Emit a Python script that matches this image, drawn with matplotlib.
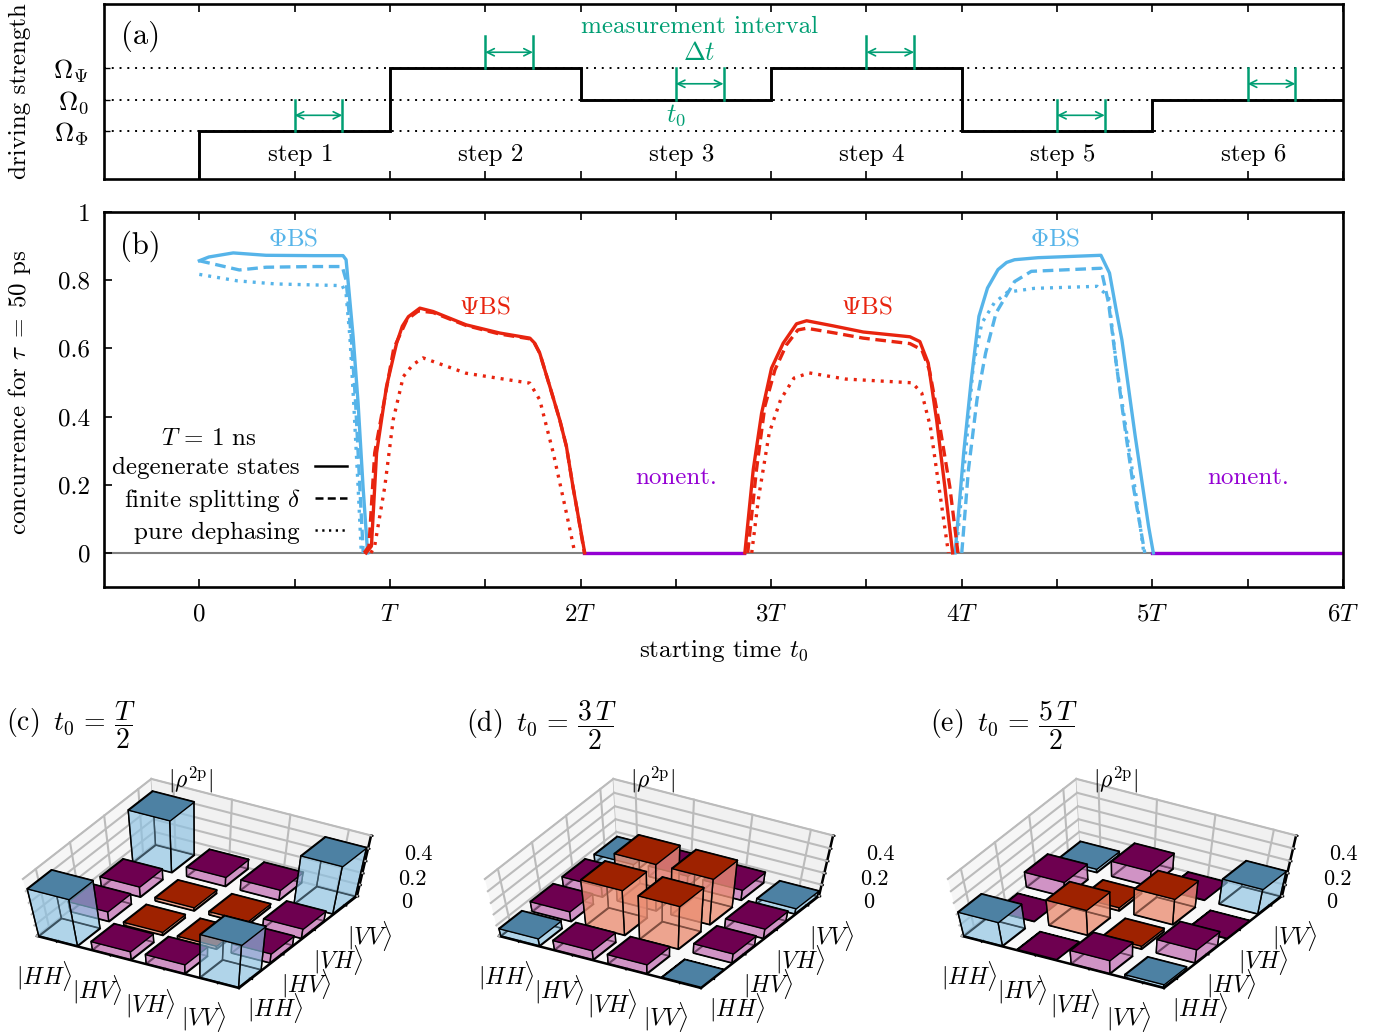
import numpy as np
import matplotlib
matplotlib.use('Agg')
import matplotlib.pyplot as plt
from matplotlib.lines import Line2D
from mpl_toolkits.mplot3d import proj3d
from mpl_toolkits.mplot3d.art3d import Poly3DCollection

plt.rcParams['font.family'] = ['cmr10']
plt.rcParams['mathtext.fontset'] = 'cm'
plt.rcParams['axes.formatter.use_mathtext'] = True
plt.rcParams['axes.unicode_minus'] = False

W, H = 1399, 1034
FS = 18

BLUE = '#56b4e9'
RED = '#e8240f'
PURPLE = '#9400d3'
GREEN = '#009e73'

##########
# Data   #
##########

# panel (a), driving strength per step
step_edges = [0, 1, 2, 3, 4, 5, 6]
step_levels = [1, 3, 2, 3, 1, 2, 2]
level_names = [r'$\Omega_\Phi$', r'$\Omega_0$', r'$\Omega_\Psi$']
step_names = ['step 1', 'step 2', 'step 3', 'step 4', 'step 5', 'step 6']

# panel (b), concurrence
phi1_solid_t = [0, 0.05, 0.178, 0.35, 0.6, 0.754, 0.77, 0.78, 0.807, 0.833, 0.859, 0.883]
phi1_solid_c = [0.857, 0.868, 0.88, 0.873, 0.872, 0.872, 0.86, 0.80, 0.634, 0.44, 0.194, 0]
phi1_dash_t = [0, 0.21, 0.35, 0.6, 0.75, 0.77, 0.797, 0.82, 0.842, 0.86]
phi1_dash_c = [0.857, 0.83, 0.838, 0.84, 0.84, 0.80, 0.634, 0.44, 0.194, 0]
phi1_dot_t = [0, 0.2, 0.4, 0.75, 0.77, 0.79, 0.81, 0.833, 0.85]
phi1_dot_c = [0.817, 0.798, 0.789, 0.784, 0.76, 0.634, 0.44, 0.194, 0]

psi1_solid_t = [0.875, 0.903, 0.93, 0.982, 1.035, 1.065, 1.097, 1.157, 1.227, 1.40, 1.576, 1.734,
                1.76, 1.786, 1.839, 1.891, 1.926, 1.96, 1.985, 2.022]
psi1_solid_c = [0, 0.02, 0.293, 0.488, 0.615, 0.665, 0.693, 0.718, 0.708, 0.669, 0.645, 0.63,
                0.615, 0.586, 0.488, 0.39, 0.312, 0.195, 0.117, 0]
psi1_dash_t = [0.865, 0.89, 0.92, 0.965, 1.02, 1.09, 1.15, 1.227, 1.40, 1.576, 1.734,
               1.76, 1.786, 1.839, 1.891, 1.926, 1.96, 1.985, 2.02]
psi1_dash_c = [0, 0.02, 0.293, 0.43, 0.6, 0.685, 0.71, 0.705, 0.667, 0.642, 0.628,
               0.613, 0.586, 0.488, 0.39, 0.312, 0.195, 0.117, 0]
psi1_dot_t = [0.9, 0.92, 0.973, 1.017, 1.07, 1.12, 1.174, 1.40, 1.734, 1.786, 1.857, 1.926, 1.97]
psi1_dot_c = [0, 0.02, 0.194, 0.39, 0.517, 0.552, 0.572, 0.527, 0.498, 0.449, 0.293, 0.117, 0]

psi2_solid_t = [2.862, 2.906, 2.95, 3.002, 3.063, 3.133, 3.186, 3.325, 3.483, 3.728, 3.78,
                3.824, 3.868, 3.911, 3.952]
psi2_solid_c = [0, 0.244, 0.41, 0.542, 0.615, 0.672, 0.681, 0.666, 0.648, 0.634, 0.62,
                0.557, 0.39, 0.195, 0]
psi2_dash_t = [2.877, 2.923, 2.967, 3.02, 3.08, 3.14, 3.186, 3.325, 3.483, 3.728, 3.79,
               3.83, 3.885, 3.937, 3.98]
psi2_dash_c = [0, 0.244, 0.43, 0.537, 0.61, 0.654, 0.659, 0.646, 0.63, 0.614, 0.596,
               0.537, 0.371, 0.195, 0]
psi2_dot_t = [2.898, 2.935, 2.99, 3.05, 3.12, 3.2, 3.39, 3.74, 3.79, 3.835, 3.88, 3.93]
psi2_dot_c = [0, 0.166, 0.352, 0.45, 0.513, 0.528, 0.51, 0.499, 0.469, 0.371, 0.195, 0]

phi2_solid_t = [3.965, 4.01, 4.05, 4.09, 4.135, 4.19, 4.235, 4.277, 4.4, 4.73, 4.775, 4.81, 4.84, 4.91, 4.98, 5.005]
phi2_solid_c = [0, 0.293, 0.508, 0.694, 0.777, 0.831, 0.852, 0.86, 0.866, 0.873, 0.821, 0.713, 0.625, 0.342, 0.078, 0]
phi2_dash_t = [4.0, 4.035, 4.08, 4.125, 4.18, 4.277, 4.365, 4.73, 4.77, 4.81, 4.855, 4.9, 4.96]
phi2_dash_c = [0, 0.244, 0.45, 0.586, 0.704, 0.796, 0.826, 0.835, 0.733, 0.557, 0.371, 0.195, 0]
phi2_dot_t = [3.97, 4.02, 4.06, 4.105, 4.17, 4.24, 4.38, 4.71, 4.77, 4.81, 4.86, 4.915, 4.955]
phi2_dot_c = [0, 0.293, 0.547, 0.674, 0.733, 0.765, 0.776, 0.782, 0.752, 0.557, 0.371, 0.166, 0]

nonent_spans = [(2.02, 2.86), (5.0, 6.0)]

# lower panels, |rho| per cell. rows run along x (HH..VV), columns along y (HH..VV)
kets = [r'$|HH\rangle$', r'$|HV\rangle$', r'$|VH\rangle$', r'$|VV\rangle$']
rho_c = [[0.42, 0.09, 0.09, 0.42],
         [0.08, 0.03, 0.03, 0.08],
         [0.09, 0.03, 0.03, 0.09],
         [0.41, 0.09, 0.09, 0.41]]
rho_d = [[0.07, 0.09, 0.09, 0.07],
         [0.09, 0.40, 0.40, 0.09],
         [0.09, 0.39, 0.40, 0.09],
         [0.005, 0.09, 0.09, 0.05]]
rho_e = [[0.22, 0.005, 0.13, 0.03],
         [0.005, 0.23, 0.03, 0.13],
         [0.13, 0.03, 0.23, 0.005],
         [0.03, 0.13, 0.005, 0.22]]
z_ticks = [0, 0.1, 0.2, 0.3, 0.4, 0.5]
z_names = ['0', '', '0.2', '', '0.4', '']


def rect(l, t, r, b):
    # pixel box to figure fractions
    return [l / W, 1 - b / H, (r - l) / W, (b - t) / H]


fig = plt.figure(figsize=(W / 100, H / 100), dpi=100)

#############
# Panel (a) #
#############
ax_a = fig.add_axes(rect(104, 4, 1343, 179))
for lev in [1, 2, 3]:
    ax_a.plot([-0.5, 6], [lev, lev], color='k', lw=1.4, ls=(0, (1, 3)), zorder=1)
ax_a.step([0, 0] + step_edges, [-1, 1] + step_levels, where='post', color='k', lw=2.1, zorder=2,
          solid_joinstyle='miter')
for i in range(6):
    l0 = step_levels[i]
    ax_a.plot([i + 0.5, i + 0.5], [l0, l0 + 1], color=GREEN, lw=1.8, zorder=3)
    ax_a.plot([i + 0.75, i + 0.75], [l0, l0 + 1], color=GREEN, lw=1.8, zorder=3)
    ax_a.annotate('', xy=(i + 0.75, l0 + 0.5), xytext=(i + 0.5, l0 + 0.5), zorder=3,
                  arrowprops=dict(arrowstyle='<->', color=GREEN, lw=1.2, shrinkA=0, shrinkB=0,
                                  mutation_scale=13))
    ax_a.text(i + 0.53, 0.23, step_names[i], ha='center', va='center', fontsize=FS)
ax_a.text(2.625, 4.3, 'measurement interval', color=GREEN, ha='center', va='center', fontsize=FS)
ax_a.text(2.625, 3.47, r'$\Delta t$', color=GREEN, ha='center', va='center', fontsize=19)
ax_a.text(2.5, 1.5, r'$t_0$', color=GREEN, ha='center', va='center', fontsize=19)
ax_a.text(-0.31, 4.02, '(a)', ha='center', va='center', fontsize=22)
ax_a.set_xlim(-0.5, 6)
ax_a.set_ylim(-0.52, 5.03)
ax_a.set_xticks(np.arange(0, 6.5, 0.5))
ax_a.set_xticklabels([])
ax_a.set_yticks([1, 2, 3])
ax_a.set_yticklabels(level_names, fontsize=19)
ax_a.tick_params(axis='x', direction='in', top=True, length=6, width=1.2)
ax_a.tick_params(axis='y', direction='in', length=4, width=1, pad=11)
ax_a.set_ylabel('driving strength', fontsize=FS)
ax_a.yaxis.set_label_coords(-0.059, 0.5)

#############
# Panel (b) #
#############
ax_b = fig.add_axes(rect(104, 212, 1343, 587))
ax_b.axhline(0, color='#808080', lw=1.5, zorder=1)
for a, b in nonent_spans:
    ax_b.plot([a, b], [0, 0], color=PURPLE, lw=2.4, zorder=2)
SOLID = '-'
DASH = (0, (3.2, 1.7))
DOT = (0, (0.9, 1.8))
curves = [(phi1_solid_t, phi1_solid_c, BLUE, SOLID), (phi1_dash_t, phi1_dash_c, BLUE, DASH),
          (phi1_dot_t, phi1_dot_c, BLUE, DOT),
          (phi2_solid_t, phi2_solid_c, BLUE, SOLID), (phi2_dash_t, phi2_dash_c, BLUE, DASH),
          (phi2_dot_t, phi2_dot_c, BLUE, DOT),
          (psi1_solid_t, psi1_solid_c, RED, SOLID), (psi1_dash_t, psi1_dash_c, RED, DASH),
          (psi1_dot_t, psi1_dot_c, RED, DOT),
          (psi2_solid_t, psi2_solid_c, RED, SOLID), (psi2_dash_t, psi2_dash_c, RED, DASH),
          (psi2_dot_t, psi2_dot_c, RED, DOT)]
for tt, cc, col, ls in curves:
    ax_b.plot(tt, cc, color=col, ls=ls, lw=2.4, zorder=3)
ax_b.text(-0.31, 0.90, '(b)', ha='center', va='center', fontsize=22)
for x0, name, y0, col in [(0.49, r'$\Phi$BS', 0.92, BLUE), (4.49, r'$\Phi$BS', 0.92, BLUE),
                          (1.5, r'$\Psi$BS', 0.72, RED), (3.5, r'$\Psi$BS', 0.72, RED),
                          (2.5, 'nonent.', 0.22, PURPLE), (5.5, 'nonent.', 0.22, PURPLE)]:
    ax_b.text(x0, y0, name, color=col, ha='center', va='center', fontsize=FS)
ax_b.text(0.053, 0.335, r'$T\,=\,1$ ns', ha='center', va='center', fontsize=FS)
handles = [Line2D([], [], color='k', lw=1.8, ls=SOLID), Line2D([], [], color='k', lw=1.8, ls=DASH),
           Line2D([], [], color='k', lw=1.8, ls=DOT)]
ax_b.legend(handles, ['degenerate states', r'finite splitting $\delta$', 'pure dephasing'],
            markerfirst=False, frameon=False, fontsize=FS, loc='lower right',
            bbox_to_anchor=(0.196, 0.115), borderpad=0, borderaxespad=0, handlelength=1.28,
            handletextpad=0.6, labelspacing=0.3)
ax_b.set_xlim(-0.5, 6)
ax_b.set_ylim(-0.1, 1.0)
ax_b.set_xticks(np.arange(0, 6.5, 0.5))
ax_b.set_xticklabels(['0', '', '$T$', '', '$2T$', '', '$3T$', '', '$4T$', '', '$5T$', '', '$6T$'],
                     fontsize=FS)
ax_b.set_yticks([0, 0.2, 0.4, 0.6, 0.8, 1.0])
ax_b.set_yticklabels(['0', '0.2', '0.4', '0.6', '0.8', '1'], fontsize=FS)
ax_b.tick_params(axis='x', direction='in', top=True, length=6, width=1.2, pad=12)
ax_b.tick_params(axis='y', direction='in', length=6, width=1.2, pad=10)
ax_b.set_xlabel(r'starting time $t_0$', fontsize=FS, labelpad=9)
ax_b.set_ylabel(r'concurrence for $\tau\;=\;50$ ps', fontsize=FS)
ax_b.yaxis.set_label_coords(-0.057, 0.52)

for ax in (ax_a, ax_b):
    for sp in ax.spines.values():
        sp.set_linewidth(1.9)

###################
# Panels (c)-(e)  #
###################
TOPS = {'corner': '#4d81a3', 'inner': '#9e2200', 'edge': '#6e0050'}
SIDES = {'corner': (0.55, 0.76, 0.89, 0.42), 'inner': (0.92, 0.56, 0.46, 0.55),
         'edge': (0.78, 0.48, 0.72, 0.55)}
BAR_W = 0.72
LO, HI = 0.62, 4.38
Z_MAX = 0.5
FLARE = 0.081


def cell_kind(i, j):
    if i in (0, 3) and j in (0, 3):
        return 'corner'
    if i in (1, 2) and j in (1, 2):
        return 'inner'
    return 'edge'


def add_bar(ax, i, j, h, z0):
    x0, x1 = i + 1 - BAR_W / 2, i + 1 + BAR_W / 2
    y0, y1 = j + 1 - BAR_W / 2, j + 1 + BAR_W / 2
    kind = cell_kind(i, j)
    low = [(x0, y0, 0), (x1, y0, 0), (x1, y1, 0), (x0, y1, 0)]
    back = [[(x0, y0, 0), (x0, y1, 0), (x0, y1, h), (x0, y0, h)],
            [(x0, y1, 0), (x1, y1, 0), (x1, y1, h), (x0, y1, h)]]
    front = [[(x0, y0, 0), (x1, y0, 0), (x1, y0, h), (x0, y0, h)],
             [(x1, y0, 0), (x1, y1, 0), (x1, y1, h), (x1, y0, h)]]
    top = [(x0, y0, h), (x1, y0, h), (x1, y1, h), (x0, y1, h)]
    for k, (verts, col) in enumerate([([low], SIDES[kind]), (back, SIDES[kind]),
                                      (front, SIDES[kind]), ([top], TOPS[kind])]):
        poly = Poly3DCollection(verts, facecolors=[col], edgecolors='k', linewidths=1.0)
        poly.set_zorder(z0 + k)
        ax.add_collection3d(poly)


def floor_projection(ax, dx):
    # the floor of these plots is a parallelogram while the walls flare out, which no
    # camera setting of mplot3d gives, so the projection matrix is set by hand
    cx, cy = 197 + dx, 916
    ex, ey, ez = (202, -52), (118, 92), (0, 54)
    inv = ax.transData.inverted()
    ox, oy = inv.transform((cx, H - cy))
    sx, sy = inv.transform((cx + 1, H - cy + 1)) - np.array([ox, oy])
    span = HI - LO
    mid = (HI + LO) / 2
    return np.array([
        [sx * ex[0] / span, sx * ey[0] / span, (sx * ez[0] - ox * FLARE) / Z_MAX,
         ox - sx * (ex[0] + ey[0]) * mid / span],
        [sy * ex[1] / span, sy * ey[1] / span, (sy * ez[1] - oy * FLARE) / Z_MAX,
         oy - sy * (ex[1] + ey[1]) * mid / span],
        [-0.5 / span, 0.87 / span, -0.5 / Z_MAX, -0.37 * mid / span],
        [0, 0, -FLARE / Z_MAX, 1]])


def density_panel(dx, rho):
    ax = fig.add_axes(rect(dx, 690, dx + 420, 1110), projection='3d', computed_zorder=False)
    ax.set_proj_type('ortho')  # only switches off the line clipping here
    ax.view_init(elev=30, azim=-60)
    ax.patch.set_alpha(0)
    # walls and floor
    ax.xaxis.set_pane_color((0.965, 0.965, 0.965, 1))
    ax.yaxis.set_pane_color((0.945, 0.945, 0.945, 1))
    ax.zaxis.set_pane_color((0.975, 0.975, 0.975, 1))
    ax.grid(False)
    for zt in z_ticks:
        ax.plot([LO, LO], [LO, HI], [zt, zt], color='#bbbbbb', lw=1.5, zorder=1)
        ax.plot([LO, HI], [HI, HI], [zt, zt], color='#bbbbbb', lw=1.5, zorder=1)
    for p in [1, 2, 3, 4]:
        ax.plot([LO, LO], [p, p], [0, Z_MAX], color='#bbbbbb', lw=1.5, zorder=1)
        ax.plot([p, p], [HI, HI], [0, Z_MAX], color='#bbbbbb', lw=1.5, zorder=1)
    # back to front as seen from the camera
    order = sorted(((i, j) for i in range(4) for j in range(4)), key=lambda c: c[0] - c[1])
    for n, (i, j) in enumerate(order):
        add_bar(ax, i, j, rho[i][j], 10 + 5 * n)
    ax.set_xlim(LO, HI)
    ax.set_ylim(LO, HI)
    ax.set_zlim(0, Z_MAX)
    ax.set_xticks([1, 2, 3, 4])
    ax.set_yticks([1, 2, 3, 4])
    ax.set_xticklabels(kets, fontsize=17)
    ax.set_yticklabels(kets, fontsize=17)
    ax.set_zticks(z_ticks)
    ax.set_zticklabels([''] * 6)
    ax.zaxis.set_ticks_position('upper')
    ax.tick_params(axis='x', pad=12)
    ax.tick_params(axis='y', pad=12)
    for axis in (ax.xaxis, ax.yaxis, ax.zaxis):
        axis.line.set_linewidth(1.8)
        axis.line.set_color('k')
        axis.pane.set_edgecolor('#bbbbbb')
        axis._axinfo['tick']['inward_factor'] = 0.08
        axis._axinfo['tick']['outward_factor'] = 0.08
        axis._axinfo['tick']['linewidth'] = {True: 1.4, False: 1.0}
    matrix = floor_projection(ax, dx)
    ax.get_proj = lambda: matrix
    # z labels stand off the axis to the right
    for zt, name in zip(z_ticks, z_names):
        if name:
            px, py, _ = proj3d.proj_transform(HI, HI, zt, matrix)
            ax.annotate(name, (px, py), xytext=(50, -6), textcoords='offset pixels',
                        ha='center', va='center', fontsize=16, annotation_clip=False)
    return ax


density_panel(0, rho_c)
density_panel(462, rho_d)
density_panel(925, rho_e)

for px, title in [(6, r'(c) $\,t_0\,=\,\dfrac{T}{2}$'), (466, r'(d) $\,t_0\,=\,\dfrac{3\,T}{2}$'),
                  (930, r'(e) $\,t_0\,=\,\dfrac{5\,T}{2}$')]:
    fig.text(px / W, 1 - 725 / H, title, ha='left', va='center', fontsize=20)
for px in [191, 653, 1116]:
    fig.text(px / W, 1 - 780 / H, r'$|\rho^{2\mathrm{p}}|$', ha='center', va='center', fontsize=17)

fig.savefig('out.png', dpi=100)
